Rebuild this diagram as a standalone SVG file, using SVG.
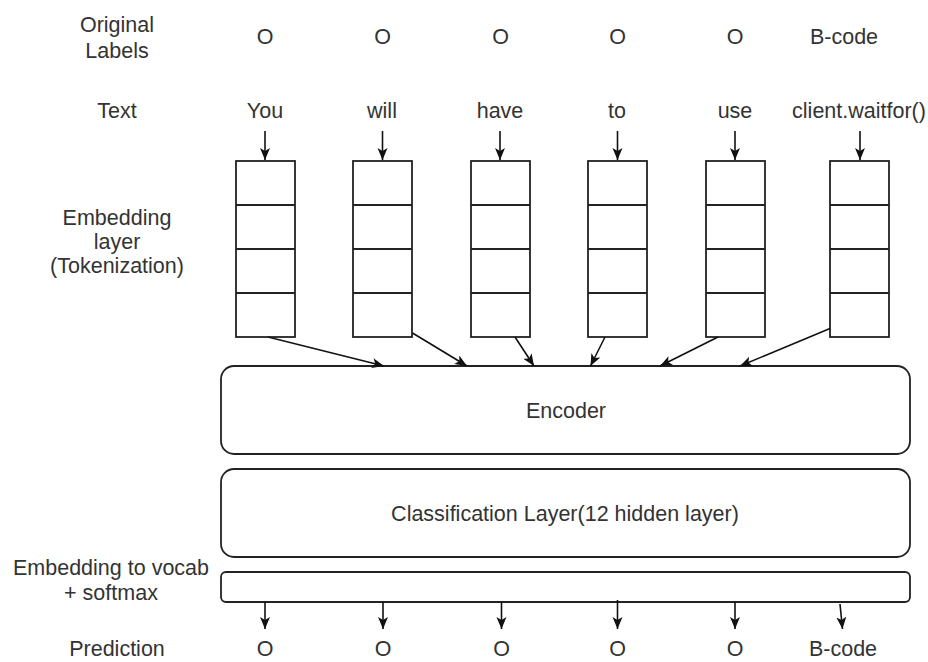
<svg xmlns="http://www.w3.org/2000/svg" width="928" height="662" viewBox="0 0 928 662">
<style>
text{font-family:"Liberation Sans",Arial,sans-serif;font-size:21.5px;fill:#333;text-anchor:middle}
.box{fill:#fff;stroke:#222;stroke-width:1.8}
.cell{stroke:#222;stroke-width:1.8;fill:none}
.conn line{stroke:#111;stroke-width:1.6;marker-end:url(#ah)}
</style>
<defs>
<marker id="ah" markerUnits="userSpaceOnUse" markerWidth="13" markerHeight="11" refX="12" refY="5" orient="auto" viewBox="0 0 13 11">
<path d="M0,0 L12,5 L0,10 L3,5 Z" fill="#111"/>
</marker>
</defs>
<rect width="928" height="662" fill="#fff"/>

<g id="labels-left">
<text x="117" y="32">Original</text>
<text x="117" y="58">Labels</text>
<text x="117" y="118">Text</text>
<text x="117" y="225">Embedding</text>
<text x="117" y="249">layer</text>
<text x="117" y="273">(Tokenization)</text>
<text x="111" y="575">Embedding to vocab</text>
<text x="111" y="600">+ softmax</text>
<text x="117" y="656">Prediction</text>
</g>

<g id="original-labels">
<text x="265" y="44">O</text>
<text x="382.5" y="44">O</text>
<text x="500.5" y="44">O</text>
<text x="617.5" y="44">O</text>
<text x="735" y="44">O</text>
<text x="844" y="44">B-code</text>
</g>

<g id="tokens">
<text x="265" y="118">You</text>
<text x="382" y="118">will</text>
<text x="500" y="118">have</text>
<text x="617" y="118">to</text>
<text x="735" y="118">use</text>
<text x="859" y="118">client.waitfor()</text>
</g>

<g id="emb1"><rect class="box" x="236" y="161" width="59" height="176"/><path class="cell" d="M236,205H295M236,249H295M236,293H295"/></g>
<g id="emb2"><rect class="box" x="353" y="161" width="59" height="176"/><path class="cell" d="M353,205H412M353,249H412M353,293H412"/></g>
<g id="emb3"><rect class="box" x="471" y="161" width="59" height="176"/><path class="cell" d="M471,205H530M471,249H530M471,293H530"/></g>
<g id="emb4"><rect class="box" x="588" y="161" width="59" height="176"/><path class="cell" d="M588,205H647M588,249H647M588,293H647"/></g>
<g id="emb5"><rect class="box" x="706" y="161" width="59" height="176"/><path class="cell" d="M706,205H765M706,249H765M706,293H765"/></g>
<g id="emb6"><rect class="box" x="830" y="161" width="59" height="176"/><path class="cell" d="M830,205H889M830,249H889M830,293H889"/></g>

<g id="encoder"><rect class="box" x="221" y="366" width="689" height="88" rx="13"/><text x="566" y="418">Encoder</text></g>
<g id="classification"><rect class="box" x="221" y="469" width="689" height="88" rx="13"/><text x="565" y="521">Classification Layer(12 hidden layer)</text></g>
<g id="vocab"><rect class="box" x="221" y="572" width="689" height="30" rx="5"/></g>

<g id="prediction">
<text x="265" y="656">O</text>
<text x="383" y="656">O</text>
<text x="501.5" y="656">O</text>
<text x="617.5" y="656">O</text>
<text x="735" y="656">O</text>
<text x="843" y="656">B-code</text>
</g>

<g class="conn" id="connectors">
<line x1="265" y1="131" x2="265" y2="160"/>
<line x1="382.5" y1="131" x2="382.5" y2="160"/>
<line x1="500" y1="131" x2="500" y2="160"/>
<line x1="617.5" y1="131" x2="617.5" y2="160"/>
<line x1="735" y1="131" x2="735" y2="160"/>
<line x1="860" y1="131" x2="860" y2="160"/>

<line x1="268" y1="337" x2="384" y2="366"/>
<line x1="412.5" y1="333" x2="467" y2="366"/>
<line x1="515" y1="337" x2="534" y2="366"/>
<line x1="605" y1="337" x2="590.5" y2="366"/>
<line x1="718" y1="337" x2="660" y2="366"/>
<line x1="830" y1="328.5" x2="740" y2="366"/>

<line x1="265" y1="602" x2="265" y2="629"/>
<line x1="383" y1="602" x2="383" y2="629"/>
<line x1="501.5" y1="602" x2="501.5" y2="629"/>
<line x1="617.5" y1="600" x2="617.5" y2="629"/>
<line x1="735" y1="602" x2="735" y2="629"/>
<line x1="840" y1="604" x2="842.5" y2="629"/>
</g>
</svg>
